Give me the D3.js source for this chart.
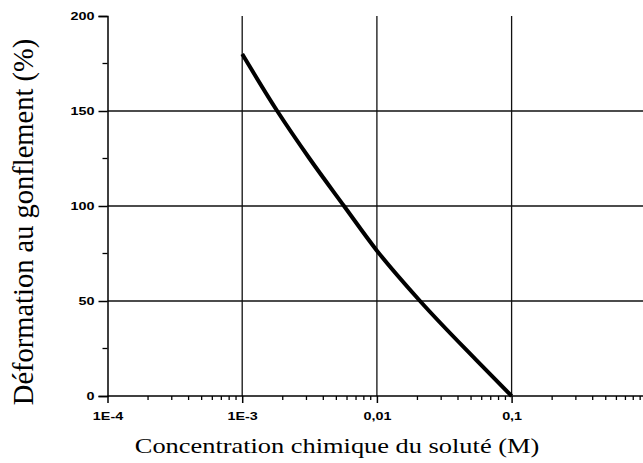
<!DOCTYPE html>
<html>
<head>
<meta charset="utf-8">
<script src="https://cdn.jsdelivr.net/npm/d3@7"></script>
<style>
  body { margin: 0; background: #fff; }
  svg { display: block; }
</style>
</head>
<body>
<div id="chart"></div>
<script>
// concentration (M) vs swelling strain (%)
var concentration = [0.001, 0.00182, 0.00316, 0.0057, 0.01, 0.0209, 0.0545, 0.1];
var deformation = [180, 150, 125, 100, 76.5, 50, 19, 0];
var xTickValues = [1e-4, 1e-3, 1e-2, 1e-1];
var xTickLabels = ["1E-4", "1E-3", "0,01", "0,1"];
var yTickValues = [0, 50, 100, 150, 200];
var yMinorTicks = [25, 75, 125, 175];

const w = 643, h = 463;
const padLeft = 107.5, padBottom = 396, padTop = 16;
const stretch = 1.2; // text in the original is drawn wide

const xScale = d3.scaleLog().domain([1e-4, 1]).range([padLeft, 646.3]);
const yScale = d3.scaleLinear().domain([0, 200]).range([padBottom, padTop]);

const svg = d3.select("#chart").append("svg")
    .attr("width", w).attr("height", h);

// grid lines
svg.append("g").selectAll("line")
   .data(xTickValues.slice(1))
   .enter().append("line")
   .attr("x1", d => xScale(d)).attr("x2", d => xScale(d))
   .attr("y1", yScale(200)).attr("y2", padBottom)
   .attr("stroke", "#111").attr("stroke-width", 1.3);

svg.append("g").selectAll("line")
   .data([50, 100, 150])
   .enter().append("line")
   .attr("x1", padLeft).attr("x2", w)
   .attr("y1", d => yScale(d)).attr("y2", d => yScale(d))
   .attr("stroke", "#111").attr("stroke-width", 1.3);

// minor x ticks
var minorX = [];
[1e-4, 1e-3, 1e-2, 1e-1].forEach(function(dec) {
  for (var k = 2; k <= 9; k++) minorX.push(dec * k);
});

const xAxis = d3.axisBottom(xScale)
    .tickValues(xTickValues)
    .tickFormat((d, i) => xTickLabels[i])
    .tickSizeOuter(0).tickSize(7).tickPadding(9);

const gx = svg.append("g")
   .attr("transform", "translate(0," + padBottom + ")")
   .call(xAxis);
gx.select(".domain").attr("d", "M" + padLeft + ",0H" + w);

gx.selectAll(".minor")
   .data(minorX).enter().append("line")
   .attr("class", "minor")
   .attr("x1", d => xScale(d)).attr("x2", d => xScale(d))
   .attr("y1", 0).attr("y2", 4)
   .attr("stroke", "#000").attr("stroke-width", 1.3);

const yAxis = d3.axisLeft(yScale)
    .tickValues(yTickValues)
    .tickSizeOuter(0).tickSize(9).tickPadding(4);

const gy = svg.append("g")
   .attr("transform", "translate(" + padLeft + ",0)")
   .call(yAxis);

gy.selectAll(".minor")
   .data(yMinorTicks).enter().append("line")
   .attr("class", "minor")
   .attr("x1", 0).attr("x2", -5)
   .attr("y1", d => yScale(d)).attr("y2", d => yScale(d))
   .attr("stroke", "#000").attr("stroke-width", 1.3);

svg.selectAll(".domain, .tick line").attr("stroke", "#000").attr("stroke-width", 1.5);
svg.selectAll(".tick text")
   .attr("fill", "#000")
   .style("font-family", "'Liberation Sans', Arial, sans-serif")
   .style("font-weight", "bold")
   .style("font-size", "11.5px");

gx.selectAll(".tick text").attr("transform", "scale(1.25,1)");
gy.selectAll(".tick text")
   .attr("x", 0)
   .attr("transform", "translate(-13,0) scale(1.25,1)");

// curve
const line = d3.line()
   .x((d, i) => xScale(concentration[i]))
   .y(d => yScale(d))
   .curve(d3.curveMonotoneX);

svg.append("path")
   .datum(deformation)
   .attr("d", line)
   .attr("fill", "none")
   .attr("stroke", "#000")
   .attr("stroke-width", 4)
   .attr("stroke-linejoin", "round");

// axis titles
svg.append("text")
   .attr("transform", "translate(337,453) scale(" + stretch + ",1)")
   .attr("text-anchor", "middle")
   .style("font-family", "'Liberation Serif', 'Times New Roman', serif")
   .style("font-size", "22px")
   .text("Concentration chimique du soluté (M)");

svg.append("text")
   .attr("transform", "translate(33,222) rotate(-90)")
   .attr("text-anchor", "middle")
   .style("font-family", "'Liberation Serif', 'Times New Roman', serif")
   .style("font-size", "28.5px")
   .text("Déformation au gonflement (%)");
</script>
</body>
</html>
